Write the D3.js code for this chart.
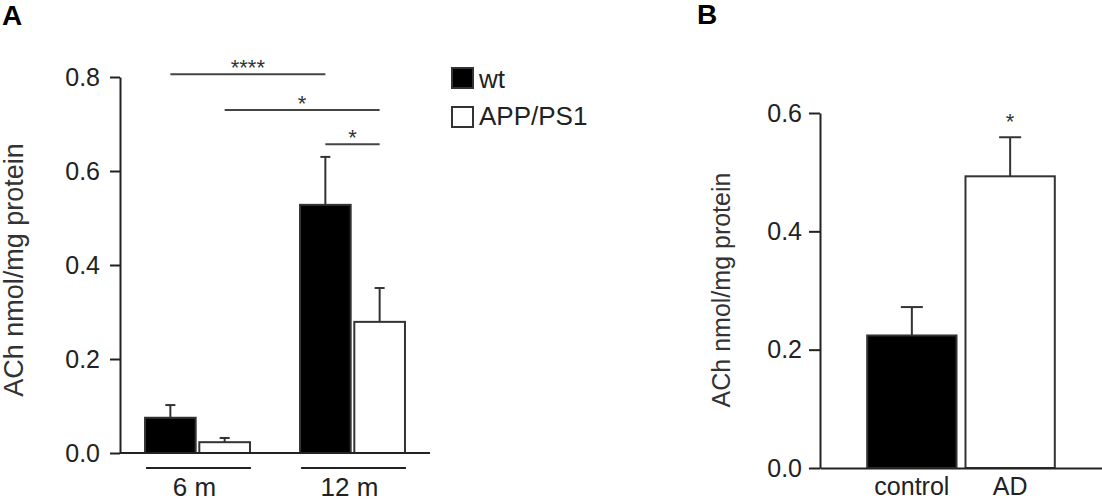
<!DOCTYPE html>
<html>
<head>
<meta charset="utf-8">
<script src="https://cdn.jsdelivr.net/npm/d3@7"></script>
<style>
    body { margin: 0; background: #fff; }
    svg { display: block; font-family: "Liberation Sans", Arial, sans-serif; }
    .axis path, .axis line { stroke: #222; stroke-width: 2; }
    .axis text { font-size: 25px; fill: #222; }
</style>
</head>
<body>
<svg id="chart" width="1102" height="504"></svg>
<script>
// Panel A data
let groupsA = ["6 m", "12 m"];
let seriesA = ["wt", "APP/PS1"];
let meanWt = [0.075, 0.528];
let semWt = [0.027, 0.102];
let meanApp = [0.023, 0.279];
let semApp = [0.009, 0.072];
let ticksA = [0.0, 0.2, 0.4, 0.6, 0.8];
// significance brackets: from bar, to bar, height, label
let sigFrom = [[0, "wt"], [0, "APP/PS1"], [1, "wt"]];
let sigTo = [[1, "wt"], [1, "APP/PS1"], [1, "APP/PS1"]];
let sigLevel = [0.806, 0.730, 0.657];
let sigLabel = ["****", "*", "*"];

// Panel B data
let categoriesB = ["control", "AD"];
let meanB = [0.224, 0.493];
let semB = [0.048, 0.066];
let ticksB = [0.0, 0.2, 0.4, 0.6];
let sigB = ["", "*"];

let seriesFill = ["#000", "#fff"];
let yLabel = "ACh nmol/mg protein";

let svg = d3.select("#chart");

//PANEL A
let yA = d3.scaleLinear().domain([0, 0.8]).range([453, 77]);
let xA = d3.scaleBand().domain(groupsA).range([120, 430]).paddingInner(0.31).paddingOuter(0.155);
let xInner = d3.scaleBand().domain(seriesA).range([0, xA.bandwidth()]).paddingInner(0.03);
let fillA = d3.scaleOrdinal().domain(seriesA).range(seriesFill);

// one row per bar
let barsA = [];
groupsA.forEach((g, i) => {
    barsA.push({ group: g, series: "wt", mean: meanWt[i], sem: semWt[i] });
    barsA.push({ group: g, series: "APP/PS1", mean: meanApp[i], sem: semApp[i] });
});
let barCenter = (gi, s) => xA(groupsA[gi]) + xInner(s) + xInner.bandwidth() / 2;

let gA = svg.append("g");

// error bars first so the bar covers the lower part
barsA.forEach((d) => {
    let cx = xA(d.group) + xInner(d.series) + xInner.bandwidth() / 2;
    gA.append("line")
        .attr("x1", cx).attr("x2", cx)
        .attr("y1", yA(d.mean)).attr("y2", yA(d.mean + d.sem))
        .attr("stroke", "#333").attr("stroke-width", 2);
    gA.append("line")
        .attr("x1", cx - 5).attr("x2", cx + 5)
        .attr("y1", yA(d.mean + d.sem)).attr("y2", yA(d.mean + d.sem))
        .attr("stroke", "#333").attr("stroke-width", 2);
});

gA.selectAll("rect.bar")
    .data(barsA)
    .join("rect")
    .attr("class", "bar")
    .attr("x", (d) => xA(d.group) + xInner(d.series) + 1)
    .attr("width", xInner.bandwidth() - 2)
    .attr("y", (d) => yA(d.mean))
    .attr("height", (d) => yA(0) - yA(d.mean))
    .attr("fill", (d) => fillA(d.series))
    .attr("stroke", "#333")
    .attr("stroke-width", 2);

gA.append("g")
    .attr("class", "axis")
    .attr("transform", "translate(120,0)")
    .call(d3.axisLeft(yA).tickValues(ticksA).tickFormat(d3.format(".1f")).tickSize(10).tickSizeOuter(0).tickPadding(10));

gA.append("line")
    .attr("x1", 120).attr("x2", 430)
    .attr("y1", yA(0)).attr("y2", yA(0))
    .attr("stroke", "#222").attr("stroke-width", 2);

// group underline and label
groupsA.forEach((g) => {
    gA.append("line")
        .attr("x1", xA(g) + 2).attr("x2", xA(g) + xA.bandwidth())
        .attr("y1", 468).attr("y2", 468)
        .attr("stroke", "#222").attr("stroke-width", 2);
    gA.append("text")
        .attr("x", xA(g) + xA.bandwidth() / 2 - 3)
        .attr("y", 496)
        .attr("text-anchor", "middle")
        .attr("font-size", 26)
        .attr("fill", "#222")
        .text(g);
});

// significance lines
sigLevel.forEach((lvl, i) => {
    let x1 = barCenter(sigFrom[i][0], sigFrom[i][1]);
    let x2 = barCenter(sigTo[i][0], sigTo[i][1]);
    gA.append("line")
        .attr("x1", x1).attr("x2", x2)
        .attr("y1", yA(lvl)).attr("y2", yA(lvl))
        .attr("stroke", "#444").attr("stroke-width", 2);
    gA.append("text")
        .attr("x", (x1 + x2) / 2)
        .attr("y", yA(lvl) + 1)
        .attr("text-anchor", "middle")
        .attr("font-size", 22)
        .attr("fill", "#333")
        .text(sigLabel[i]);
});

// legend
seriesA.forEach((s, i) => {
    gA.append("rect")
        .attr("x", 452).attr("y", 68 + i * 39)
        .attr("width", 21).attr("height", 20)
        .attr("fill", fillA(s))
        .attr("stroke", "#333").attr("stroke-width", 2);
    gA.append("text")
        .attr("x", 479).attr("y", 88 + i * 37)
        .attr("font-size", 26)
        .attr("fill", "#222")
        .text(s);
});

gA.append("text")
    .attr("transform", "translate(23,270) rotate(-90)")
    .attr("text-anchor", "middle")
    .attr("font-size", 27)
    .attr("fill", "#333")
    .text(yLabel);

gA.append("text")
    .attr("x", 2).attr("y", 25)
    .attr("font-size", 28).attr("font-weight", "bold")
    .text("A");

//PANEL B
let yB = d3.scaleLinear().domain([0, 0.6]).range([468, 113]);
let xB = d3.scaleBand().domain(categoriesB).range([820, 1102]).paddingInner(0.071).paddingOuter(0.47);
let fillB = d3.scaleOrdinal().domain(categoriesB).range(seriesFill);

let gB = svg.append("g");

categoriesB.forEach((c, i) => {
    let cx = xB(c) + xB.bandwidth() / 2;
    let top = yB(meanB[i] + semB[i]);
    gB.append("line")
        .attr("x1", cx).attr("x2", cx)
        .attr("y1", yB(meanB[i])).attr("y2", top)
        .attr("stroke", "#333").attr("stroke-width", 2);
    gB.append("line")
        .attr("x1", cx - 11).attr("x2", cx + 11)
        .attr("y1", top).attr("y2", top)
        .attr("stroke", "#333").attr("stroke-width", 2);
    gB.append("text")
        .attr("x", cx).attr("y", top - 8)
        .attr("text-anchor", "middle")
        .attr("font-size", 22)
        .attr("fill", "#333")
        .text(sigB[i]);
});

gB.selectAll("rect.bar")
    .data(categoriesB)
    .join("rect")
    .attr("class", "bar")
    .attr("x", (d) => xB(d) + 1)
    .attr("width", xB.bandwidth() - 2)
    .attr("y", (d, i) => yB(meanB[i]))
    .attr("height", (d, i) => yB(0) - yB(meanB[i]))
    .attr("fill", (d) => fillB(d))
    .attr("stroke", "#333")
    .attr("stroke-width", 2);

gB.append("g")
    .attr("class", "axis")
    .attr("transform", "translate(820,0)")
    .call(d3.axisLeft(yB).tickValues(ticksB).tickFormat(d3.format(".1f")).tickSize(11).tickSizeOuter(0).tickPadding(7));

gB.append("g")
    .attr("class", "axis")
    .attr("transform", `translate(0,${yB(0)})`)
    .call(d3.axisBottom(xB).tickSize(0).tickSizeOuter(0).tickPadding(9));

gB.append("text")
    .attr("transform", "translate(730,290) rotate(-90)")
    .attr("text-anchor", "middle")
    .attr("font-size", 25)
    .attr("fill", "#333")
    .text(yLabel);

gB.append("text")
    .attr("x", 697).attr("y", 24)
    .attr("font-size", 28).attr("font-weight", "bold")
    .text("B");
</script>
</body>
</html>
